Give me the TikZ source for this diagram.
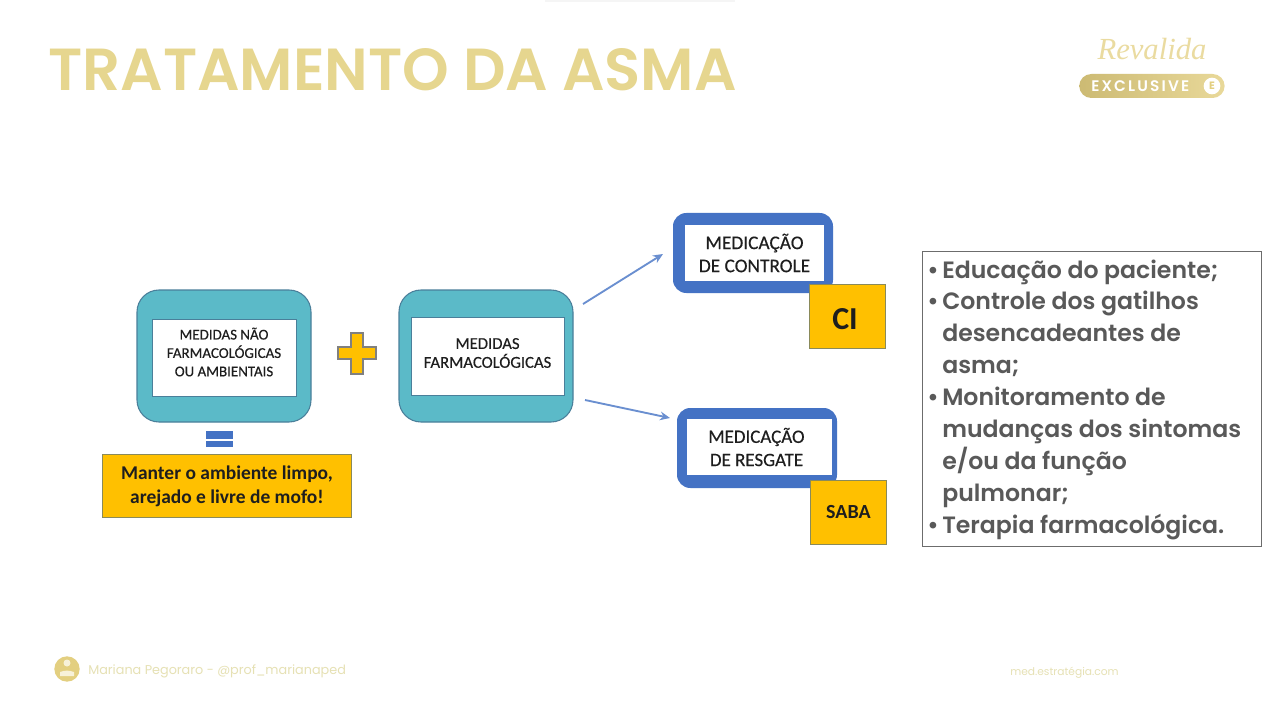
\documentclass[tikz,border=0pt]{standalone}
\usepackage{fontspec}
\setmainfont{Carlito}
\newfontfamily\semif[FakeBold=0.35]{Carlito}
\newfontfamily\titlefont{Poppins SemiBold}
\newfontfamily\listfont{Poppins SemiBold}
\newfontfamily\footfont{Poppins}
\newfontfamily\exclf[LetterSpace=14]{Poppins SemiBold}
\newfontfamily\scriptf{Liberation Serif}
\usetikzlibrary{arrows.meta}
\definecolor{teal1}{HTML}{5BBAC8}
\definecolor{tealedge}{HTML}{4A7F9A}
\definecolor{blue1}{HTML}{4472C4}
\definecolor{amber}{HTML}{FFC000}
\definecolor{amberedge}{HTML}{8A8A5A}
\definecolor{titlegold}{HTML}{E6D68F}
\definecolor{gold}{HTML}{E3CF80}
\definecolor{foot}{HTML}{E6E1B4}
\definecolor{arrowblue}{HTML}{6A8FD0}
\definecolor{ink}{HTML}{1E1E1E}
\definecolor{listink}{HTML}{595959}
\tikzset{
 x=0.75pt,y=-0.75pt,
 outerteal/.style={draw=tealedge,line width=0.8pt,fill=teal1,rounded corners=16.5pt},
 outerblue/.style={fill=blue1,rounded corners=10pt},
 inner/.style={draw=tealedge,line width=0.5pt,fill=white},
 ambox/.style={draw=amberedge,line width=0.7pt,fill=amber},
 lab/.style={text=ink,align=center,inner sep=0,font=\semif\fontsize{#1}{#1}\selectfont},
 link/.style={draw=arrowblue,line width=1.4pt,-{Stealth[length=7.5pt,width=6.5pt]}},
}
\begin{document}
\begin{tikzpicture}
\useasboundingbox (0,0) rectangle (1280,720);
\fill[white] (0,0) rectangle (1280,720);
\fill[gray!8] (545,0) rectangle (735,2);
% title
\node[anchor=base west,inner sep=0,text=titlegold,font=\titlefont\fontsize{44.5}{44.5}\selectfont] (title) at (48,91) {TRATAMENTO DA ASMA};
% logo
\node[anchor=base,inner sep=0,text=gold!75,font=\scriptf\itshape\fontsize{23}{23}\selectfont] (rev) at (1152,60) {Revalida};
\node[anchor=west,left color=gold!90!black,right color=gold!80,draw=none,rounded corners=9pt,minimum width=109pt,minimum height=18pt,inner sep=0] (pill) at (1079,86) {};
\node[anchor=west,inner sep=0,text=white,font=\exclf\fontsize{11.5}{11.5}\selectfont] (excl) at (1091,86) {EXCLUSIVE};
\node[circle,fill=white,minimum size=12.5pt,inner sep=0,text=gold,font=\footfont\bfseries\fontsize{8}{8}\selectfont] (ico) at (1212,86) {E};
% left box
\draw[outerteal] (137,290) rectangle (311,422);
\node[inner,anchor=north west,minimum width=108pt,minimum height=57.75pt,inner sep=0] (nf) at (152,319) {};
\node[lab=11.2] (nft) at (224,352) {MEDIDAS NÃO\\[2.6pt]FARMACOLÓGICAS\\[2.6pt]OU AMBIENTAIS};
% equals
\fill[blue1] (206,431) rectangle (233,439);
\fill[blue1] (206,441) rectangle (233,447);
\node[ambox,anchor=north west,minimum width=186.75pt,minimum height=47.25pt,inner sep=0,font=\bfseries\fontsize{14.6}{14.6}\selectfont,text=ink,align=center] (keep) at (102,454) {Manter o ambiente limpo,\\[3.4pt]arejado e livre de mofo!};
% plus
\draw[ambox,line width=0.9pt,draw=gray] (351,333) -- (363,333) -- (363,347) -- (376,347) -- (376,359) -- (363,359) -- (363,374) -- (351,374) -- (351,359) -- (338,359) -- (338,347) -- (351,347) -- cycle;
% middle box
\draw[outerteal] (399,290) rectangle (573,422);
\node[inner,anchor=north west,minimum width=114.75pt,minimum height=58.5pt,inner sep=0] (f) at (411,317) {};
\node[lab=12.5] (ft) at (487.5,353) {MEDIDAS\\[1.6pt]FARMACOLÓGICAS};
% control
\fill[outerblue] (673,213) rectangle (833,293);
\node[inner,draw=none,anchor=north west,minimum width=104.25pt,minimum height=42pt,inner sep=0] (ctl) at (685,225) {};
\node[lab=14.5] (ctlt) at (754.5,253) {MEDICAÇÃO\\[2.8pt]DE CONTROLE};
\node[ambox,anchor=north west,minimum width=57pt,minimum height=48pt,inner sep=0] (ci) at (809,284) {};
\node[inner sep=0,font=\bfseries\fontsize{24}{24}\selectfont,text=ink] (cit) at (845,319) {CI};
% rescue
\fill[outerblue] (677,408) rectangle (837,488);
\node[inner,draw=none,anchor=north west,minimum width=108.75pt,minimum height=42pt,inner sep=0] (res) at (687,419) {};
\node[lab=14.2] (rest) at (756.5,447) {MEDICAÇÃO\\[3.2pt]DE RESGATE};
\node[ambox,anchor=north west,minimum width=57pt,minimum height=48pt,inner sep=0,font=\bfseries\fontsize{15}{15}\selectfont,text=ink] (saba) at (810,480) {SABA};
% arrows
\coordinate (a1) at (583,304);
\coordinate (b1) at (663,254);
\coordinate (a2) at (585,400);
\coordinate (b2) at (670,418);
\draw[link] (a1) -- (b1);
\draw[link] (a2) -- (b2);
% list
\node[draw=gray!85!black,line width=1pt,anchor=north west,minimum width=254.25pt,minimum height=221.25pt,inner sep=0] (lst) at (922,251) {};
\begin{scope}[every node/.style={anchor=base west,inner sep=0,text=listink,font=\listfont\fontsize{17.7}{17.7}\selectfont}]
\node (l1) at (927,278) {•};
\node (t1) at (942,278) {Educação do paciente;};
\node (l2) at (927,309) {•};
\node (t2) at (942,309) {Controle dos gatilhos};
\node (t3) at (942,341) {desencadeantes de};
\node (t4) at (942,373) {asma;};
\node (l3) at (927,405) {•};
\node (t5) at (942,405) {Monitoramento de};
\node (t6) at (942,437) {mudanças dos sintomas};
\node (t7) at (942,469) {e/ou da função};
\node (t8) at (942,501) {pulmonar;};
\node (l4) at (927,533) {•};
\node (t9) at (942,533) {Terapia farmacológica.};
\end{scope}
% footer
\node[circle,fill=gold,minimum size=19pt,inner sep=0] (av) at (67,669) {};
\fill[white!70!gold] (67,663) circle (3.5) (60,676) -- (60,672) to[bend left=20] (74,672) -- (74,676) -- cycle;
\node[anchor=base west,inner sep=0,text=foot,font=\footfont\fontsize{9.6}{9.6}\selectfont] (au) at (88,674) {Mariana Pegoraro - @prof\_marianaped};
\node[anchor=base west,inner sep=0,text=foot,font=\footfont\fontsize{8}{8}\selectfont] (site) at (1010,675) {med.estratégia.com};
\end{tikzpicture}
\end{document}
